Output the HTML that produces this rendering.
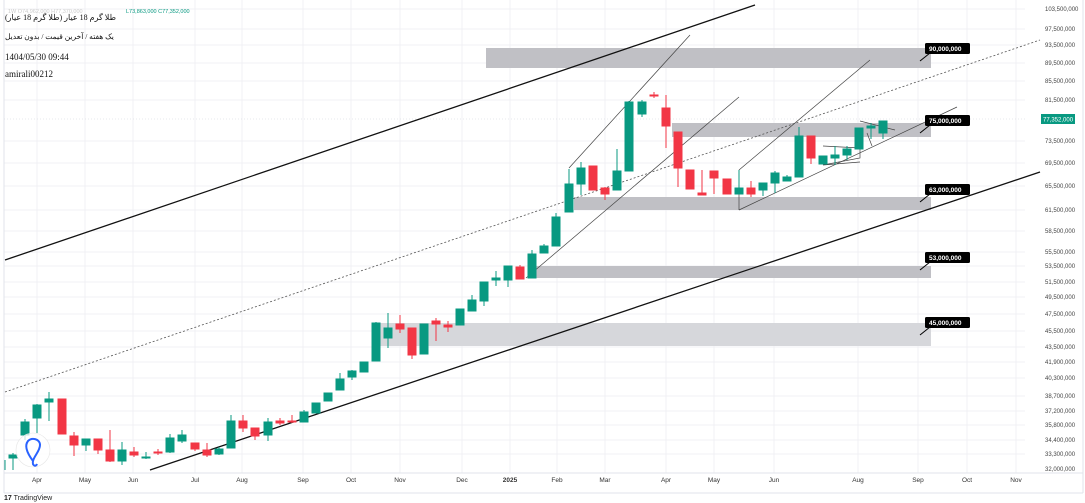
<!DOCTYPE html>
<html><head><meta charset="utf-8"><style>
body{margin:0;background:#fff;width:1085px;height:503px;overflow:hidden;font-family:"Liberation Sans","Noto Sans CJK SC",sans-serif;position:relative}
svg{display:block}
.ax{font-size:6px;fill:#444}
.mo{font-size:6.5px;fill:#333}
.g{fill:#089981;stroke:#089981}
.r{fill:#f23645;stroke:#f23645}
.lb{font-size:6.5px;fill:#fff;font-weight:bold}
.hd{position:absolute;direction:rtl;white-space:nowrap;color:#111;font-family:"Liberation Serif","Noto Serif CJK SC",serif;line-height:1}
</style></head><body>
<svg width="1085" height="503" viewBox="0 0 1085 503" xmlns="http://www.w3.org/2000/svg">
<rect width="1085" height="503" fill="#fff"/>
<g stroke="#f1f1f4" stroke-width="1">
<line x1="37" y1="0" x2="37" y2="473"/><line x1="85" y1="0" x2="85" y2="473"/><line x1="133" y1="0" x2="133" y2="473"/><line x1="195" y1="0" x2="195" y2="473"/><line x1="242" y1="0" x2="242" y2="473"/><line x1="303" y1="0" x2="303" y2="473"/><line x1="351" y1="0" x2="351" y2="473"/><line x1="400" y1="0" x2="400" y2="473"/><line x1="462" y1="0" x2="462" y2="473"/><line x1="510" y1="0" x2="510" y2="473"/><line x1="557" y1="0" x2="557" y2="473"/><line x1="605" y1="0" x2="605" y2="473"/><line x1="666" y1="0" x2="666" y2="473"/><line x1="714" y1="0" x2="714" y2="473"/><line x1="774" y1="0" x2="774" y2="473"/><line x1="858" y1="0" x2="858" y2="473"/><line x1="918" y1="0" x2="918" y2="473"/><line x1="967" y1="0" x2="967" y2="473"/><line x1="1016" y1="0" x2="1016" y2="473"/>
<line x1="4" y1="9" x2="1025" y2="9"/><line x1="4" y1="29" x2="1025" y2="29"/><line x1="4" y1="45" x2="1025" y2="45"/><line x1="4" y1="63" x2="1025" y2="63"/><line x1="4" y1="81" x2="1025" y2="81"/><line x1="4" y1="100" x2="1025" y2="100"/><line x1="4" y1="141" x2="1025" y2="141"/><line x1="4" y1="163" x2="1025" y2="163"/><line x1="4" y1="186" x2="1025" y2="186"/><line x1="4" y1="210" x2="1025" y2="210"/><line x1="4" y1="231" x2="1025" y2="231"/><line x1="4" y1="252" x2="1025" y2="252"/><line x1="4" y1="266" x2="1025" y2="266"/><line x1="4" y1="282" x2="1025" y2="282"/><line x1="4" y1="297" x2="1025" y2="297"/><line x1="4" y1="314" x2="1025" y2="314"/><line x1="4" y1="331" x2="1025" y2="331"/><line x1="4" y1="347" x2="1025" y2="347"/><line x1="4" y1="362" x2="1025" y2="362"/><line x1="4" y1="378" x2="1025" y2="378"/><line x1="4" y1="396" x2="1025" y2="396"/><line x1="4" y1="411" x2="1025" y2="411"/><line x1="4" y1="425" x2="1025" y2="425"/><line x1="4" y1="440" x2="1025" y2="440"/><line x1="4" y1="454" x2="1025" y2="454"/>
</g>
<line x1="4" y1="0" x2="4" y2="493" stroke="#e0e3eb"/>
<line x1="1083" y1="0" x2="1083" y2="493" stroke="#e0e3eb"/>
<line x1="4" y1="473" x2="1083" y2="473" stroke="#e0e3eb"/>
<line x1="4" y1="493" x2="1083" y2="493" stroke="#e0e3eb"/>
<rect x="486" y="48" width="445" height="20" fill="#c0c0c5"/>
<rect x="672" y="123" width="259" height="14" fill="#c0c0c5"/>
<rect x="574" y="197" width="357" height="13" fill="#c0c0c5"/>
<rect x="530" y="266" width="401" height="12" fill="#c0c0c5"/>
<rect x="380" y="323" width="551" height="23" fill="#d6d7db"/>
<line x1="4" y1="119" x2="1025" y2="119" stroke="#cfd6dc" stroke-dasharray="1,2" stroke-width="0.6"/>
<line x1="5" y1="260" x2="755" y2="5" stroke="#111" stroke-width="1.3"/>
<line x1="150" y1="470" x2="1040" y2="172" stroke="#111" stroke-width="1.3"/>
<line x1="5" y1="392" x2="1040" y2="40" stroke="#555" stroke-width="0.8" stroke-dasharray="2,2"/>
<g stroke="#444" stroke-width="0.7" fill="none">
<line x1="569" y1="168" x2="690" y2="35"/>
<line x1="526" y1="278" x2="739" y2="97"/>
<line x1="739" y1="170" x2="870" y2="60"/>
<line x1="739" y1="210" x2="957" y2="107"/>
<line x1="739" y1="170" x2="739" y2="210"/>
<polyline points="823,146 860,148 860,158 823,165 860,162"/>
<line x1="860" y1="121" x2="895" y2="130"/>
<line x1="867" y1="133" x2="872" y2="146"/>
</g>
<g stroke-width="1">
<line x1="5" y1="460" x2="5" y2="470" stroke="#089981"/>
<line class="g" x1="13" y1="453" x2="13" y2="470"/><rect class="g" x="9" y="455" width="8" height="3"/>
<line class="g" x1="25" y1="419" x2="25" y2="440"/><rect class="g" x="21" y="422" width="8" height="13"/>
<line class="g" x1="37" y1="404" x2="37" y2="433"/><rect class="g" x="33" y="405" width="8" height="13"/>
<line class="g" x1="49" y1="392" x2="49" y2="421"/><rect class="g" x="45" y="399" width="8" height="3"/>
<rect class="r" x="58" y="399" width="8" height="35"/>
<line class="r" x1="74" y1="432" x2="74" y2="456"/><rect class="r" x="70" y="436" width="8" height="9"/>
<line class="g" x1="86" y1="439" x2="86" y2="451"/><rect class="g" x="82" y="439" width="8" height="6"/>
<line class="r" x1="98" y1="439" x2="98" y2="454"/><rect class="r" x="94" y="439" width="8" height="11"/>
<line class="r" x1="110" y1="430" x2="110" y2="462"/><rect class="r" x="106" y="450" width="8" height="11"/>
<line class="g" x1="122" y1="442" x2="122" y2="465"/><rect class="g" x="118" y="450" width="8" height="11"/>
<line class="r" x1="134" y1="447" x2="134" y2="457"/><rect class="r" x="130" y="452" width="8" height="3"/>
<line class="g" x1="146" y1="452" x2="146" y2="459"/><rect class="g" x="142" y="457" width="8" height="1"/>
<line class="r" x1="158" y1="449" x2="158" y2="455"/><rect class="r" x="154" y="452" width="8" height="1"/>
<line class="g" x1="170" y1="434" x2="170" y2="453"/><rect class="g" x="166" y="438" width="8" height="14"/>
<line class="g" x1="182" y1="430" x2="182" y2="443"/><rect class="g" x="178" y="435" width="8" height="6"/>
<line class="r" x1="195" y1="443" x2="195" y2="451"/><rect class="r" x="191" y="443" width="8" height="6"/>
<line class="r" x1="207" y1="443" x2="207" y2="457"/><rect class="r" x="203" y="450" width="8" height="5"/>
<line class="g" x1="219" y1="447" x2="219" y2="455"/><rect class="g" x="215" y="449" width="8" height="5"/>
<line class="g" x1="231" y1="415" x2="231" y2="448"/><rect class="g" x="227" y="421" width="8" height="27"/>
<line class="r" x1="243" y1="415" x2="243" y2="432"/><rect class="r" x="239" y="421" width="8" height="7"/>
<line class="r" x1="255" y1="428" x2="255" y2="440"/><rect class="r" x="251" y="428" width="8" height="8"/>
<line class="g" x1="268" y1="418" x2="268" y2="441"/><rect class="g" x="264" y="422" width="8" height="13"/>
<line class="r" x1="280" y1="418" x2="280" y2="425"/><rect class="r" x="276" y="421" width="8" height="2"/>
<line class="r" x1="292" y1="415" x2="292" y2="423"/><rect class="r" x="288" y="421" width="8" height="1"/>
<line class="g" x1="304" y1="410" x2="304" y2="422"/><rect class="g" x="300" y="412" width="8" height="10"/>
<rect class="g" x="312" y="403" width="8" height="10"/>
<rect class="g" x="324" y="393" width="8" height="8"/>
<line class="g" x1="340" y1="373" x2="340" y2="390"/><rect class="g" x="336" y="379" width="8" height="11"/>
<line class="g" x1="352" y1="370" x2="352" y2="380"/><rect class="g" x="348" y="371" width="8" height="6"/>
<rect class="g" x="360" y="362" width="8" height="10"/>
<line class="g" x1="376" y1="322" x2="376" y2="361"/><rect class="g" x="372" y="323" width="8" height="38"/>
<line class="g" x1="388" y1="313" x2="388" y2="348"/><rect class="g" x="384" y="328" width="8" height="10"/>
<line class="r" x1="400" y1="315" x2="400" y2="333"/><rect class="r" x="396" y="324" width="8" height="5"/>
<line class="r" x1="412" y1="328" x2="412" y2="359"/><rect class="r" x="408" y="328" width="8" height="27"/>
<rect class="g" x="420" y="324" width="8" height="30"/>
<line class="r" x1="436" y1="318" x2="436" y2="341"/><rect class="r" x="432" y="321" width="8" height="3"/>
<line class="r" x1="448" y1="321" x2="448" y2="332"/><rect class="r" x="444" y="325" width="8" height="2"/>
<rect class="g" x="456" y="309" width="8" height="16"/>
<line class="g" x1="472" y1="295" x2="472" y2="311"/><rect class="g" x="468" y="300" width="8" height="11"/>
<line class="g" x1="484" y1="282" x2="484" y2="306"/><rect class="g" x="480" y="282" width="8" height="19"/>
<line class="g" x1="496" y1="271" x2="496" y2="286"/><rect class="g" x="492" y="278" width="8" height="2"/>
<line class="g" x1="508" y1="266" x2="508" y2="287"/><rect class="g" x="504" y="266" width="8" height="14"/>
<line class="r" x1="520" y1="265" x2="520" y2="279"/><rect class="r" x="516" y="267" width="8" height="12"/>
<line class="g" x1="532" y1="250" x2="532" y2="278"/><rect class="g" x="528" y="254" width="8" height="24"/>
<line class="g" x1="544" y1="244" x2="544" y2="253"/><rect class="g" x="540" y="246" width="8" height="7"/>
<line class="g" x1="556" y1="213" x2="556" y2="246"/><rect class="g" x="552" y="217" width="8" height="29"/>
<line class="g" x1="569" y1="169" x2="569" y2="212"/><rect class="g" x="565" y="184" width="8" height="28"/>
<line class="g" x1="581" y1="162" x2="581" y2="195"/><rect class="g" x="577" y="168" width="8" height="16"/>
<rect class="r" x="589" y="166" width="8" height="24"/>
<line class="r" x1="605" y1="187" x2="605" y2="200"/><rect class="r" x="601" y="188" width="8" height="6"/>
<line class="g" x1="617" y1="149" x2="617" y2="190"/><rect class="g" x="613" y="171" width="8" height="19"/>
<line class="g" x1="629" y1="101" x2="629" y2="171"/><rect class="g" x="625" y="102" width="8" height="69"/>
<line class="g" x1="642" y1="100" x2="642" y2="117"/><rect class="g" x="638" y="102" width="8" height="12"/>
<line class="r" x1="654" y1="92" x2="654" y2="98"/><rect class="r" x="650" y="95" width="8" height="1"/>
<line class="r" x1="666" y1="95" x2="666" y2="148"/><rect class="r" x="662" y="108" width="8" height="18"/>
<line class="r" x1="678" y1="132" x2="678" y2="187"/><rect class="r" x="674" y="132" width="8" height="36"/>
<rect class="r" x="686" y="170" width="8" height="19"/>
<line class="r" x1="702" y1="170" x2="702" y2="195"/><rect class="r" x="698" y="193" width="8" height="2"/>
<line class="r" x1="714" y1="171" x2="714" y2="194"/><rect class="r" x="710" y="171" width="8" height="7"/>
<rect class="r" x="723" y="179" width="8" height="15"/>
<line class="g" x1="739" y1="170" x2="739" y2="194"/><rect class="g" x="735" y="188" width="8" height="6"/>
<line class="r" x1="751" y1="181" x2="751" y2="197"/><rect class="r" x="747" y="188" width="8" height="6"/>
<line class="g" x1="763" y1="183" x2="763" y2="196"/><rect class="g" x="759" y="183" width="8" height="7"/>
<line class="g" x1="775" y1="171" x2="775" y2="193"/><rect class="g" x="771" y="173" width="8" height="10"/>
<line class="g" x1="787" y1="175" x2="787" y2="181"/><rect class="g" x="783" y="177" width="8" height="4"/>
<line class="g" x1="799" y1="127" x2="799" y2="177"/><rect class="g" x="795" y="136" width="8" height="41"/>
<line class="r" x1="811" y1="136" x2="811" y2="164"/><rect class="r" x="807" y="136" width="8" height="22"/>
<rect class="g" x="819" y="156" width="8" height="8"/>
<line class="g" x1="835" y1="146" x2="835" y2="165"/><rect class="g" x="831" y="155" width="8" height="3"/>
<line class="g" x1="847" y1="146" x2="847" y2="160"/><rect class="g" x="843" y="149" width="8" height="6"/>
<rect class="g" x="855" y="128" width="8" height="21"/>
<line class="g" x1="871" y1="123" x2="871" y2="139"/><rect class="g" x="867" y="126" width="8" height="2"/>
<line class="g" x1="883" y1="121" x2="883" y2="139"/><rect class="g" x="879" y="121" width="8" height="12"/>
</g>
<circle cx="33" cy="450" r="17" fill="#fff" fill-opacity="0.75" stroke="#e6e6e6" stroke-width="0.6"/>
<path d="M33 461 C27 453,24 446,28 441 C32 437,40 439,40 445 C40 451,34 456,33 461 C32 466,36 467,37 464" fill="none" stroke="#2962ff" stroke-width="2"/>
<g>
<line x1="920" y1="61" x2="930" y2="53" stroke="#000"/><rect x="925" y="43" width="45" height="11" rx="1.5" fill="#000"/><text class="lb" x="929" y="51">90,000,000</text>
<line x1="920" y1="133" x2="930" y2="125" stroke="#000"/><rect x="925" y="115" width="45" height="11" rx="1.5" fill="#000"/><text class="lb" x="929" y="123">75,000,000</text>
<line x1="920" y1="202" x2="930" y2="194" stroke="#000"/><rect x="925" y="184" width="45" height="11" rx="1.5" fill="#000"/><text class="lb" x="929" y="192">63,000,000</text>
<line x1="920" y1="270" x2="930" y2="262" stroke="#000"/><rect x="925" y="252" width="45" height="11" rx="1.5" fill="#000"/><text class="lb" x="929" y="260">53,000,000</text>
<line x1="920" y1="335" x2="930" y2="327" stroke="#000"/><rect x="925" y="317" width="45" height="11" rx="1.5" fill="#000"/><text class="lb" x="929" y="325">45,000,000</text>
</g>
<g class="ax">
<text x="1045" y="11">103,500,000</text><text x="1045" y="31">97,500,000</text><text x="1045" y="47">93,500,000</text><text x="1045" y="65">89,500,000</text><text x="1045" y="83">85,500,000</text><text x="1045" y="102">81,500,000</text><text x="1045" y="143">73,500,000</text><text x="1045" y="165">69,500,000</text><text x="1045" y="188">65,500,000</text><text x="1045" y="212">61,500,000</text><text x="1045" y="233">58,500,000</text><text x="1045" y="254">55,500,000</text><text x="1045" y="268">53,500,000</text><text x="1045" y="284">51,500,000</text><text x="1045" y="299">49,500,000</text><text x="1045" y="316">47,500,000</text><text x="1045" y="333">45,500,000</text><text x="1045" y="349">43,500,000</text><text x="1045" y="364">41,900,000</text><text x="1045" y="380">40,300,000</text><text x="1045" y="398">38,700,000</text><text x="1045" y="413">37,200,000</text><text x="1045" y="427">35,800,000</text><text x="1045" y="442">34,400,000</text><text x="1045" y="456">33,300,000</text><text x="1045" y="471">32,000,000</text>
</g>
<rect x="1041" y="114" width="34" height="10" fill="#089981"/>
<text x="1043" y="121.5" style="font-size:6px;fill:#fff">77,352,000</text>
<g class="mo" text-anchor="middle">
<text x="37" y="482">Apr</text><text x="85" y="482">May</text><text x="133" y="482">Jun</text><text x="195" y="482">Jul</text><text x="242" y="482">Aug</text><text x="303" y="482">Sep</text><text x="351" y="482">Oct</text><text x="400" y="482">Nov</text><text x="462" y="482">Dec</text><text x="510" y="482" font-weight="bold">2025</text><text x="557" y="482">Feb</text><text x="605" y="482">Mar</text><text x="666" y="482">Apr</text><text x="714" y="482">May</text><text x="774" y="482">Jun</text><text x="858" y="482">Aug</text><text x="918" y="482">Sep</text><text x="967" y="482">Oct</text><text x="1016" y="482">Nov</text>
</g>
<text x="4" y="500" style="font-size:7px;fill:#222"><tspan font-weight="bold">17</tspan> TradingView</text>
<text x="8" y="13" style="font-size:5.5px;fill:#ccc">1W O74,962,000 H77,370,000</text>
<text x="126" y="13" style="font-size:5.5px;fill:#089981">L73,863,000 C77,352,000</text>
<text x="5" y="60" style="font-size:9px;fill:#111;font-family:'Liberation Serif',serif">1404/05/30 09:44</text>
<text x="5" y="77" style="font-size:9px;fill:#111;font-family:'Liberation Serif',serif">amirali00212</text>
</svg>
<div class="hd" style="left:5px;top:14px;font-size:8px">طلا گرم 18 عیار (طلا گرم 18 عیار)</div>
<div class="hd" style="left:5px;top:33px;font-size:7.5px">یک هفته / آخرین قیمت / بدون تعدیل</div>
</body></html>
